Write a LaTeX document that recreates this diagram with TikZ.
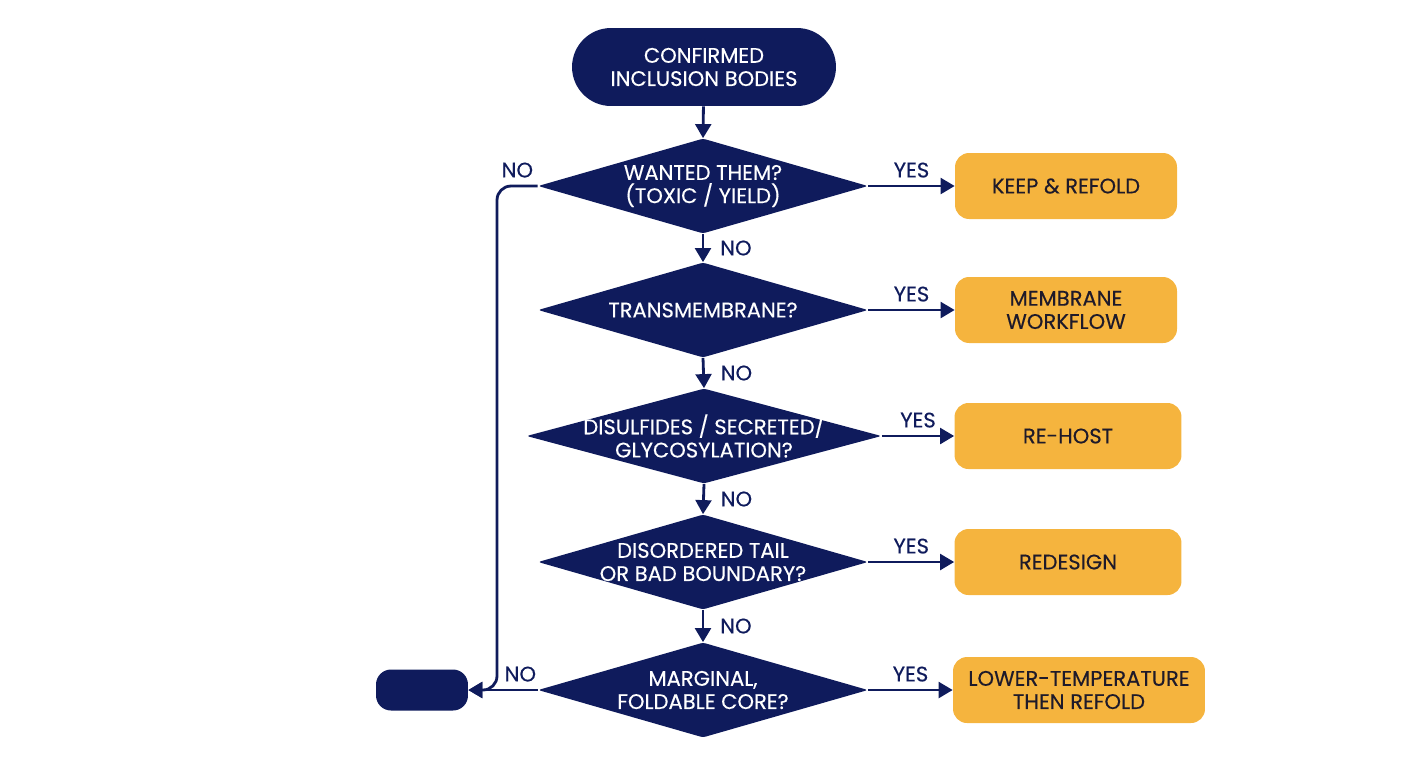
\documentclass[tikz,border=0pt]{standalone}
\usepackage{fontspec}
\setmainfont{Poppins}[FakeBold=0.3]
\usetikzlibrary{shapes.geometric,shapes.misc,arrows.meta}

\definecolor{navy}{HTML}{0F1B5C}
\definecolor{amber}{HTML}{F5B43E}
\definecolor{ink}{HTML}{1E1A2A}

\begin{document}
\begin{tikzpicture}[x=0.02cm,y=-0.02cm,
    font=\fontsize{12}{13.2}\selectfont,
    flow/.style={draw=navy,line width=1.6pt,-{Triangle[length=8pt,width=9pt]}},
    terminal/.style={rounded rectangle,fill=navy,text=white,align=center,
        minimum width=5.28cm,minimum height=1.56cm,inner sep=0pt},
    decision/.style={diamond,fill=navy,inner sep=0pt,rounded corners=1.5pt,
        minimum width=6.6cm,minimum height=1.9cm},
    qtext/.style={text=white,align=center,inner sep=0pt},
    outcome/.style={rectangle,rounded corners=0.28cm,fill=amber,text=ink,align=center,
        minimum width=4.44cm,minimum height=1.32cm},
    lbl/.style={text=navy,inner sep=1pt}]

\useasboundingbox (0,0) rectangle (1408,768);

% Start
\node[terminal] (start) at (704,67) {CONFIRMED\\INCLUSION BODIES};

% Decisions
\node[decision] (wanted) at (703,186) {};
\node[qtext] (wantedtxt) at (wanted) {WANTED THEM?\\(TOXIC / YIELD)};
\node[decision] (tm) at (703,310) {};
\node[qtext] (tmtxt) at (tm) {TRANSMEMBRANE?};
\node[decision,minimum width=7.1cm] (disulf) at (704,436) {};
\node[qtext] (disulftxt) at (disulf) {DISULFIDES / SECRETED/\\GLYCOSYLATION?};
\node[decision] (disorder) at (703,562) {};
\node[qtext] (disordertxt) at (disorder) {DISORDERED TAIL\\OR BAD BOUNDARY?};
\node[decision] (marginal) at (703,690) {};
\node[qtext] (marginaltxt) at (marginal) {MARGINAL,\\FOLDABLE CORE?};

% Outcomes
\node[outcome] (keep) at (1066,186) {KEEP \& REFOLD};
\node[outcome] (membrane) at (1066,310) {MEMBRANE\\WORKFLOW};
\node[outcome,minimum width=4.54cm] (rehost) at (1068,436) {RE-HOST};
\node[outcome,minimum width=4.54cm] (redesign) at (1068,562) {REDESIGN};
\node[outcome,minimum width=5.04cm] (lowtemp) at (1079,690) {LOWER-TEMPERATURE\\THEN REFOLD};

% Dead end
\node[rectangle,rounded corners=0.3cm,fill=navy,minimum width=1.84cm,minimum height=0.82cm] (dead) at (422,690) {};
\coordinate (bus) at (497,186);

% NO chain
\draw[flow] (start) -- (wanted.north);
\draw[flow] (wanted.south) -- (tm.north) node[lbl,midway,right=8pt] {NO};
\draw[flow] (tm.south) -- (disulf.north) node[lbl,midway,right=8pt] {NO};
\draw[flow] (disulf.south) -- (disorder.north) node[lbl,midway,right=8pt] {NO};
\draw[flow] (disorder.south) -- (marginal.north) node[lbl,midway,right=8pt] {NO};

% YES branches
\draw[flow] (wanted.east) -- (keep.west) node[lbl,midway,above=3pt] {YES};
\draw[flow] (tm.east) -- (membrane.west) node[lbl,midway,above=3pt] {YES};
\draw[flow] (disulf.east) -- (rehost.west) node[lbl,midway,above=3pt] {YES};
\draw[flow] (disorder.east) -- (redesign.west) node[lbl,midway,above=3pt] {YES};
\draw[flow] (marginal.east) -- (lowtemp.west) node[lbl,midway,above=3pt] {YES};

% Left NO branches
\draw[flow,rounded corners=8pt] (wanted.west) -- (bus) node[lbl,midway,above=3pt] {NO} |- (dead.east);
\draw[flow] (marginal.west) -- (dead.east) node[lbl,pos=0.25,above=3pt] {NO};

\end{tikzpicture}
\end{document}
